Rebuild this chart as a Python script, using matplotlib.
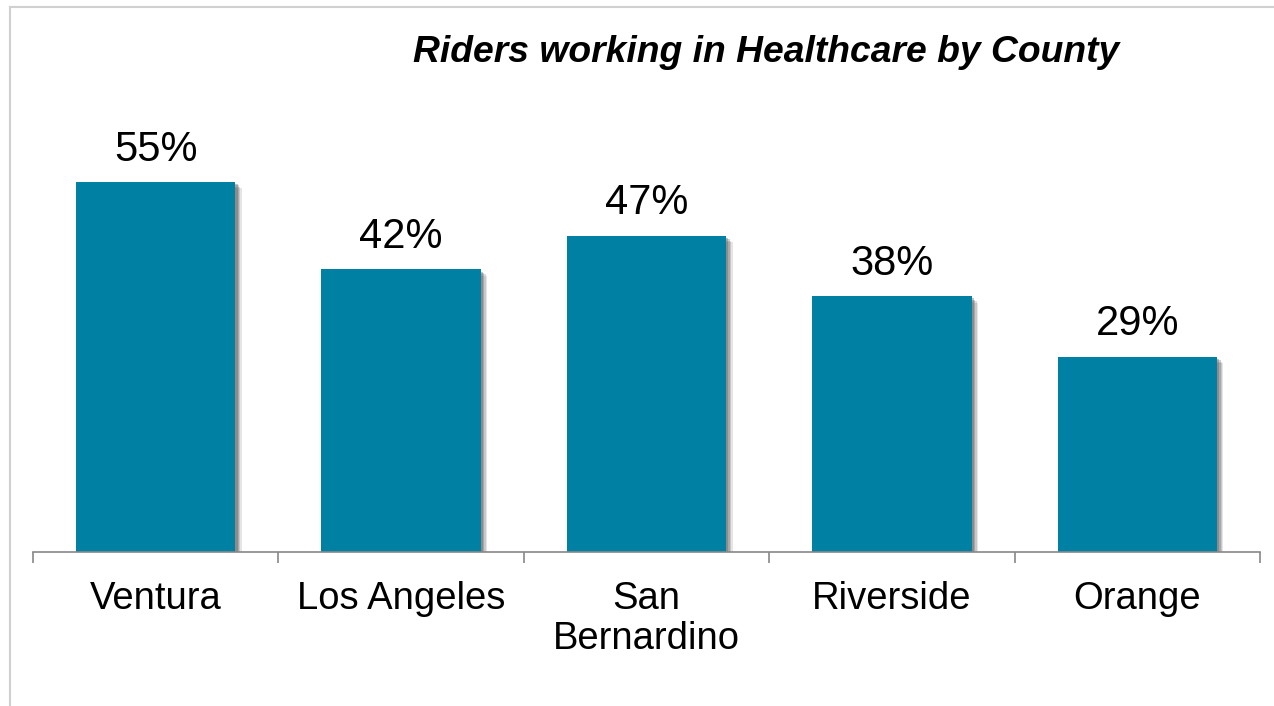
import matplotlib.pyplot as plt
import matplotlib.patheffects as pe
from matplotlib.lines import Line2D

counties = ['Ventura', 'Los Angeles', 'San\nBernardino', 'Riverside', 'Orange']
share = [55, 42, 47, 38, 29]

plt.rcParams['font.family'] = ['Liberation Sans', 'DejaVu Sans']

W, H = 1274, 706
fig = plt.figure(figsize=(W / 100, H / 100), dpi=100)
ax = fig.add_axes([33 / W, 1 - 552 / H, (1260 - 33) / W, (552 - 100) / H])

bar_color = '#0080A3'
bars = ax.bar(range(len(counties)), share, width=0.65, color=bar_color, zorder=2)
# soft drop shadow: a few stacked offsets
shadow = [pe.SimplePatchShadow(offset=(d, -d), shadow_rgbFace='#555555', alpha=a)
          for d, a in [(4.5, 0.15), (3.5, 0.2), (2.5, 0.28), (1.5, 0.35)]]
for b in bars:
    b.set_path_effects(shadow + [pe.Normal()])

for i, v in enumerate(share):
    ax.annotate(f'{v}%', (i, v), xytext=(0, 9), textcoords='offset points',
                ha='center', va='bottom', fontsize=30)

ax.set_xlim(-0.5, len(counties) - 0.5)
ax.set_ylim(0, 452 / (370 / 55))

for s in ['top', 'right', 'left']:
    ax.spines[s].set_visible(False)
ax.spines['bottom'].set_color('#888888')
ax.spines['bottom'].set_linewidth(1.2)
ax.set_yticks([])
ax.set_xticks([i - 0.5 for i in range(len(counties) + 1)], minor=False)
ax.set_xticklabels([])
ax.tick_params(axis='x', which='major', length=8, color='#888888', width=1.2, direction='out')
ax.set_xticks(range(len(counties)), minor=True)
ax.set_xticklabels(counties, minor=True, fontsize=27.5, linespacing=1.15)
ax.tick_params(axis='x', which='minor', length=0, pad=21)

fig.text(766 / W, 1 - 53 / H, 'Riders working in Healthcare by County', ha='center', va='center',
         fontsize=26.8, fontweight='bold', fontstyle='italic')

# outer light frame
fig.add_artist(Line2D([10 / W, 10 / W], [0, 1 - 7 / H], color='#d0d0d0', lw=1.5, transform=fig.transFigure))
fig.add_artist(Line2D([10 / W, 1], [1 - 7 / H, 1 - 7 / H], color='#d0d0d0', lw=1.5, transform=fig.transFigure))

fig.savefig('out.png', dpi=100)
